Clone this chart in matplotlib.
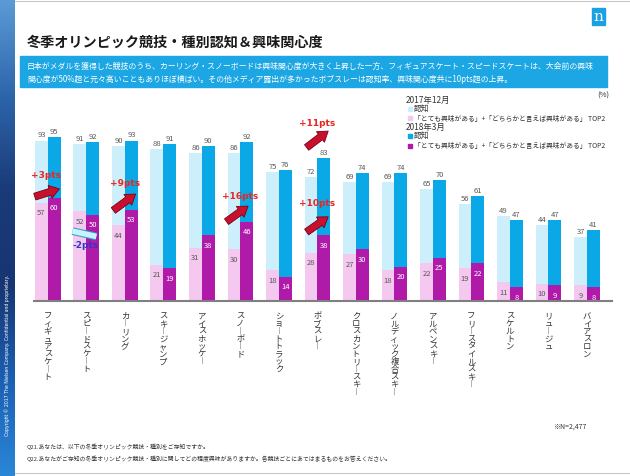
import numpy as np
import matplotlib
matplotlib.use("Agg")
import matplotlib.pyplot as plt
from matplotlib.patches import Rectangle
from matplotlib.colors import LinearSegmentedColormap
import matplotlib.patheffects as pe

plt.rcParams['font.family'] = ['Noto Sans CJK JP', 'DejaVu Sans']

# data (%)
sports = ["フィギュアスケート", "スピードスケート", "カーリング", "スキージャンプ",
          "アイスホッケー", "スノーボード", "ショートトラック", "ボブスレー",
          "クロスカントリースキー", "ノルディック複合スキー", "アルペンスキー",
          "フリースタイルスキー", "スケルトン", "リュージュ", "バイアスロン"]
aware_2017 = [93, 91, 90, 88, 86, 86, 75, 72, 69, 69, 65, 56, 49, 44, 37]
aware_2018 = [95, 92, 93, 91, 90, 92, 76, 83, 74, 74, 70, 61, 47, 47, 41]
interest_2017 = [57, 52, 44, 21, 31, 30, 18, 28, 27, 18, 22, 19, 11, 10, 9]
interest_2018 = [60, 50, 53, 19, 38, 46, 14, 38, 30, 20, 25, 22, 8, 9, 8]

# change callouts: label, text pos, arrow tail, arrow head
rises = [("+3pts", (-0.05, 73.5), (-0.34, 60.5), (0.30, 65.0)),
         ("+9pts", (2.0, 68.5), (1.70, 52.5), (2.28, 62.0)),
         ("+16pts", (5.0, 61.0), (4.64, 46.0), (5.20, 55.0)),
         ("+11pts", (7.0, 103.5), (6.72, 89.0), (7.28, 98.5)),
         ("+10pts", (7.0, 57.0), (6.72, 40.0), (7.28, 48.8))]

W, H = 630, 477
fig = plt.figure(figsize=(W / 100, H / 100), dpi=100)


def fx(px):
    return px / W


def fy(py):
    return 1 - py / H


C_AW17 = '#cdeefb'
C_AW18 = '#0aa8e6'
C_IN17 = '#f4c8ef'
C_IN18 = '#b01aa8'
GREY = '#595959'

# left decorative stripe
stripe = fig.add_axes([0, 0, fx(15), 1])
cmap = LinearSegmentedColormap.from_list(
    'stripe', ['#5b9bd6', '#2d65ab', '#1a3a78', '#173572', '#1b5fb3', '#2a86d6'])
stripe.imshow(np.linspace(0, 1, 200).reshape(-1, 1), aspect='auto', cmap=cmap)
stripe.axis('off')
fig.text(fx(7.5), fy(355), "Copyright © 2017 The Nielsen Company. Confidential and proprietary.",
         rotation=90, ha='center', va='center', fontsize=3.3, color='white', family='DejaVu Sans')

# frame lines
fig.add_artist(plt.Line2D([fx(15), 1], [fy(2), fy(2)], color='#c8c8c8', lw=0.8))
fig.add_artist(plt.Line2D([fx(15), 1], [fy(474), fy(474)], color='#c8c8c8', lw=0.8))

# logo
fig.add_artist(Rectangle((fx(592), fy(26)), fx(13), 17 / H, color='#1ba1e2'))
fig.text(fx(598.5), fy(17), "n", color='white', fontsize=11, family='DejaVu Serif',
         ha='center', va='center')

# title and banner
fig.text(fx(27), fy(43), "冬季オリンピック競技・種別認知＆興味関心度",
         fontsize=10.2, fontweight='bold', color='#1a1a1a', va='center')
fig.add_artist(Rectangle((fx(20), fy(88)), fx(587), 31 / H, color='#1ca6e3'))
fig.text(fx(27), fy(66.5),
         "日本がメダルを獲得した競技のうち、カーリング・スノーボードは興味関心度が大きく上昇した一方、"
         "フィギュアスケート・スピードスケートは、大会前の興味",
         fontsize=5.7, color='white', va='center')
fig.text(fx(27), fy(79),
         "関心度が50%超と元々高いこともありほぼ横ばい。その他メディア露出が多かったボブスレーは認知率、"
         "興味関心度共に10pts超の上昇。",
         fontsize=5.7, color='white', va='center')

# chart
ax = fig.add_axes([fx(34), fy(302), fx(578), 172.5 / H])
x = np.arange(len(sports))
w = 0.335
ax.bar(x - w / 2, aware_2017, w, color=C_AW17, zorder=1)
ax.bar(x + w / 2, aware_2018, w, color=C_AW18, zorder=1)
ax.bar(x - w / 2, interest_2017, w, color=C_IN17, zorder=2)
ax.bar(x + w / 2, interest_2018, w, color=C_IN18, zorder=2)

for i in range(len(sports)):
    ax.annotate(str(aware_2017[i]), (x[i] - w / 2, aware_2017[i]), xytext=(0, 1.5),
                textcoords='offset points', ha='center', va='bottom', fontsize=5.5, color=GREY)
    ax.annotate(str(aware_2018[i]), (x[i] + w / 2, aware_2018[i]), xytext=(0, 1.5),
                textcoords='offset points', ha='center', va='bottom', fontsize=5.5, color=GREY)
    ax.annotate(str(interest_2017[i]), (x[i] - w / 2, interest_2017[i]), xytext=(0, -4),
                textcoords='offset points', ha='center', va='top', fontsize=5.5, color=GREY, zorder=3)
    ax.annotate(str(interest_2018[i]), (x[i] + w / 2, interest_2018[i]), xytext=(0, -4),
                textcoords='offset points', ha='center', va='top', fontsize=5.5, color='white', zorder=3)
    # vertical (tategaki) category label
    label = "\n".join(sports[i].replace("ー", "︱"))
    ax.annotate(label, (x[i], 0), xycoords=('data', 'axes fraction'), xytext=(0, -7),
                textcoords='offset points', ha='center', va='top', fontsize=6,
                linespacing=0.8, color='#333333', annotation_clip=False)

for txt, tpos, tail, head in rises:
    ax.annotate('', xy=head, xytext=tail, zorder=5, annotation_clip=False,
                arrowprops=dict(arrowstyle='simple,head_length=0.7,head_width=0.95,tail_width=0.5',
                                fc='#c8102e', ec='#7a0010', lw=0.6, mutation_scale=10,
                                shrinkA=0, shrinkB=0))
    ax.text(tpos[0], tpos[1], txt, ha='center', va='center', fontsize=6.5,
            fontweight='bold', color='#e8261f', zorder=6, family='DejaVu Sans', clip_on=False)

# speed skating slight drop
ax.plot([0.64, 1.26], [40.5, 37.4], lw=4, color='#c9f3ff', solid_capstyle='butt', zorder=5,
        path_effects=[pe.Stroke(linewidth=5.5, foreground='#2a9fd0'), pe.Normal()])
ax.text(0.98, 32.5, "-2pts", ha='center', va='center', fontsize=6.5, fontweight='bold',
        color='#3535c8', zorder=6, family='DejaVu Sans')

ax.set_xlim(-0.36, 14.65)
ax.set_ylim(0, 100)
ax.set_xticks([])
ax.set_yticks([])
for s in ['top', 'right', 'left']:
    ax.spines[s].set_visible(False)
ax.spines['bottom'].set_color('#7f7f7f')
ax.spines['bottom'].set_linewidth(1.5)
ax.patch.set_alpha(0)

# legend
fig.text(fx(603), fy(96), "(%)", fontsize=5.5, color='#333333', ha='center', va='center')
leg = [(None, "2017年12月", 100), (C_AW17, "認知", 109.5),
       (C_IN17, "「とても興味がある」+「どちらかと言えば興味がある」 TOP2", 118.5),
       (None, "2018年3月", 127.5), (C_AW18, "認知", 137),
       (C_IN18, "「とても興味がある」+「どちらかと言えば興味がある」 TOP2", 146.5)]
for col, txt, py in leg:
    if col is None:
        fig.text(fx(406), fy(py), txt, fontsize=6, color='#333333', va='center')
    else:
        fig.add_artist(Rectangle((fx(407.5), fy(py + 2)), fx(4), 4 / H, color=col))
        fig.text(fx(414), fy(py), txt, fontsize=4.9 if txt != "認知" else 5.6,
                 color='#333333', va='center')

# notes
fig.text(fx(553), fy(427), "※N=2,477", fontsize=5, color='#333333', va='center')
fig.text(fx(27), fy(447), "Q21.あなたは、以下の冬季オリンピック競技・種別をご存知ですか。",
         fontsize=4.2, color='#333333', va='center')
fig.text(fx(27), fy(459),
         "Q22.あなたがご存知の冬季オリンピック競技・種別に関してどの程度興味がありますか。各競技ごとにあてはまるものをお答えください。",
         fontsize=4.2, color='#333333', va='center')

fig.savefig("out.png", dpi=100)
